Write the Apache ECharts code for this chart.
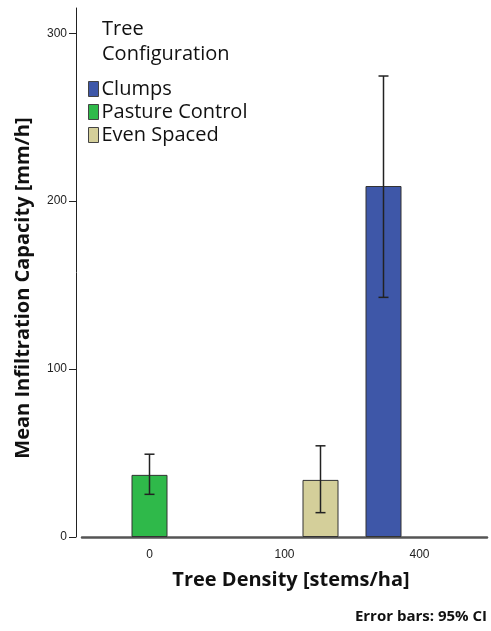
<!DOCTYPE html>
<html><head><meta charset="utf-8">
<script src="https://cdn.jsdelivr.net/npm/echarts@6/dist/echarts.min.js"></script>
<style>html,body{margin:0;padding:0;background:#fff}#c{width:491px;height:631px}</style>
</head><body><div id="c"></div>
<script>
const categories = ['0', '100', '400'];
const seriesNames = ['Clumps', 'Pasture Control', 'Even Spaced'];
const clumpsMean = [null, null, 209];
const pastureMean = [37, null, null];
const evenMean = [null, 34, null];
const clumpsLow = [null, null, 142.7];
const clumpsHigh = [null, null, 274.5];
const pastureLow = [25.4, null, null];
const pastureHigh = [49.3, null, null];
const evenLow = [null, 14.5, null];
const evenHigh = [null, 54.3, null];
const yTicks = [0, 100, 200, 300];

const colors = ['#3E57A8', '#2FB94A', '#D4CF9A'];
const means = [clumpsMean, pastureMean, evenMean];
const lows = [clumpsLow, pastureLow, evenLow];
const highs = [clumpsHigh, pastureHigh, evenHigh];
const BW = 36;
const FONT = '"Open Sans", "DejaVu Sans", sans-serif';
const TICKFONT = '"Liberation Sans Narrow", "Liberation Sans", Arial, sans-serif';

const chart = echarts.init(document.getElementById('c'), null, {renderer: 'canvas'});
const series = [];
seriesNames.forEach((n, i) => {
  series.push({
    name: n, type: 'bar', data: means[i], barWidth: BW, barGap: '0%',
    itemStyle: {color: colors[i], borderColor: '#333', borderWidth: 1}
  });
});
seriesNames.forEach((n, i) => {
  const data = [];
  categories.forEach((c, k) => { if (lows[i][k] != null) data.push([k, lows[i][k], highs[i][k]]); });
  series.push({
    type: 'custom', z: 10, silent: true,
    data: data,
    encode: {x: 0, y: [1, 2]},
    renderItem: function (params, api) {
      const off = (i - 1) * BW;
      const lo = api.coord([api.value(0), api.value(1)]);
      const hi = api.coord([api.value(0), api.value(2)]);
      const x = lo[0] + off;
      const cw = 5;
      const st = {stroke: '#222', lineWidth: 1.5};
      return {type: 'group', children: [
        {type: 'line', shape: {x1: x, y1: lo[1], x2: x, y2: hi[1]}, style: st},
        {type: 'line', shape: {x1: x - cw, y1: lo[1], x2: x + cw, y2: lo[1]}, style: st},
        {type: 'line', shape: {x1: x - cw, y1: hi[1], x2: x + cw, y2: hi[1]}, style: st}
      ]};
    }
  });
});

chart.setOption({
  animation: false,
  grid: {left: 82, top: 8, right: 4, bottom: 94},
  legend: {
    data: seriesNames, orient: 'vertical', left: 83, top: 74,
    icon: 'rect', itemWidth: 10, itemHeight: 15, itemGap: 3,
    textStyle: {fontFamily: FONT, fontSize: 20, color: '#111', lineHeight: 20, padding: [0, 0, 0, -2]},
    itemStyle: {borderColor: '#444', borderWidth: 1}
  },
  graphic: [
    {type: 'text', left: 102, top: 17, style: {text: 'Tree\nConfiguration', font: '20px ' + FONT, fill: '#111', lineHeight: 25}},
    {type: 'text', x: 487, y: 617, style: {text: 'Error bars: 95% CI', font: 'bold 15px ' + FONT, fill: '#111', align: 'right', verticalAlign: 'middle'}},
    {type: 'text', x: 291, y: 580, style: {text: 'Tree Density [stems/ha]', font: 'bold 20px ' + FONT, fill: '#111', align: 'center', verticalAlign: 'middle'}},
    {type: 'text', x: 23, y: 288, rotation: Math.PI / 2, style: {text: 'Mean Infiltration Capacity [mm/h]', font: 'bold 20px ' + FONT, fill: '#111', align: 'center', verticalAlign: 'middle'}}
  ],
  xAxis: {
    type: 'category', data: categories,
    axisLine: {lineStyle: {color: '#555', width: 2.5}},
    axisTick: {alignWithLabel: true, length: 7, lineStyle: {color: '#222', width: 1}},
    axisLabel: {fontFamily: TICKFONT, fontSize: 12, color: '#222', margin: 12}
  },
  yAxis: {
    type: 'value', min: 0, max: 315, offset: 6,
    axisLine: {show: true, lineStyle: {color: '#222', width: 1}},
    splitLine: {show: false},
    axisTick: {show: true, length: 7, customValues: yTicks, lineStyle: {color: '#222'}},
    axisLabel: {fontFamily: TICKFONT, fontSize: 12, color: '#222', margin: 9, customValues: yTicks}
  },
  series: series
});
</script></body></html>
